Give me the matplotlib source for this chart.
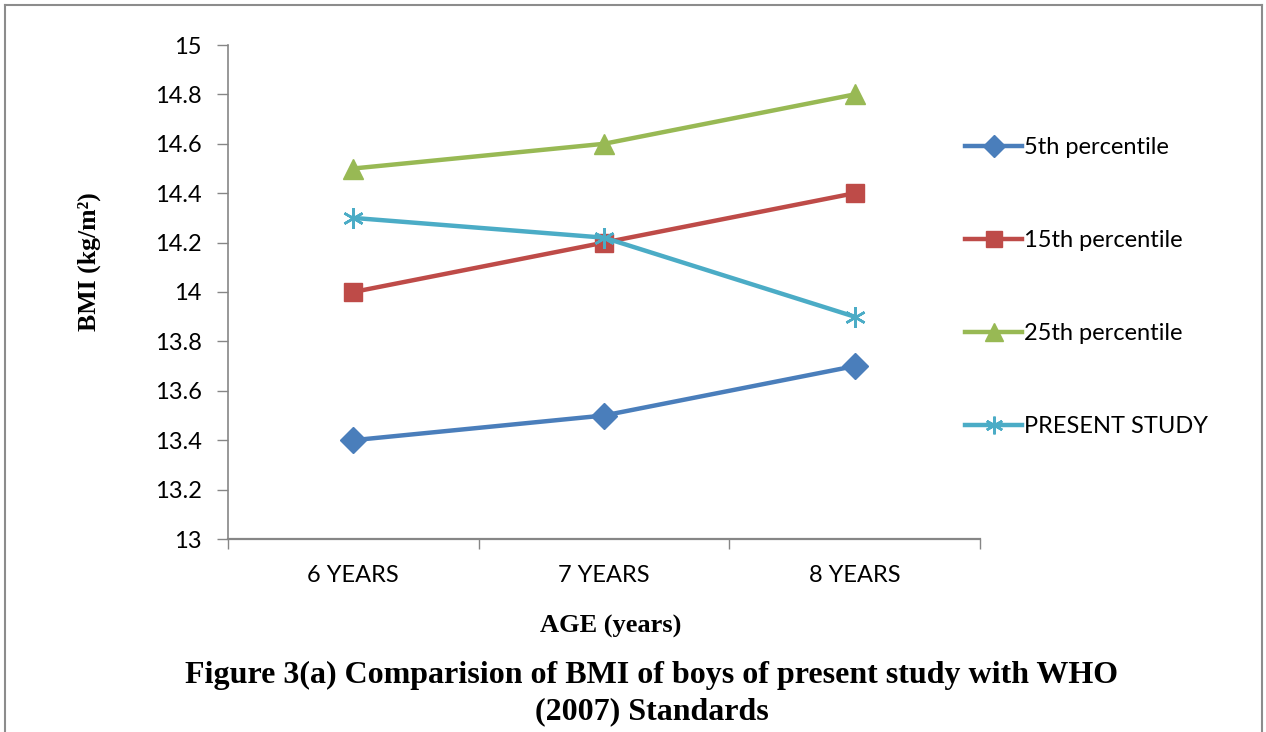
import matplotlib
matplotlib.use("Agg")
import matplotlib.pyplot as plt
from matplotlib.lines import Line2D

categories = ["6 YEARS", "7 YEARS", "8 YEARS"]
p5 = [13.4, 13.5, 13.7]
p15 = [14.0, 14.2, 14.4]
p25 = [14.5, 14.6, 14.8]
present = [14.3, 14.22, 13.9]
series_names = ["5th percentile", "15th percentile", "25th percentile", "PRESENT STUDY"]
yticks = [13, 13.2, 13.4, 13.6, 13.8, 14, 14.2, 14.4, 14.6, 14.8, 15]

W, H = 1266, 732
fig = plt.figure(figsize=(W / 100, H / 100), dpi=100)
ax = fig.add_axes([228 / W, 1 - 539 / H, (980 - 228) / W, (539 - 45) / H])

sans = ["Lato", "DejaVu Sans"]
serif = ["Liberation Serif", "DejaVu Serif"]
x = list(range(len(categories)))
lw = 3.2
ax.plot(x, p5, color="#4A7EBB", lw=lw, marker="D", ms=13, label=series_names[0])
ax.plot(x, p15, color="#BE4B48", lw=lw, marker="s", ms=13, label=series_names[1])
ax.plot(x, p25, color="#98B954", lw=lw, marker="^", ms=15, label=series_names[2])
ax.plot(x, present, color="#4BACC6", lw=lw, marker=(6, 2, 0), ms=15, mew=1.8,
        label=series_names[3])

ax.set_xlim(-0.5, len(categories) - 0.5)
ax.set_ylim(13, 15)
ax.set_yticks(yticks)
ax.set_yticklabels([f"{v:g}" for v in yticks], fontfamily=sans, fontsize=17)
ax.set_xticks([i - 0.5 for i in range(len(categories) + 1)])
ax.set_xticklabels([])
ax.set_xticks(x, minor=True)
ax.set_xticklabels(categories, minor=True, fontfamily=sans, fontsize=17)
ax.tick_params(axis="x", which="major", length=7, width=1, color="#868686", direction="out")
ax.tick_params(axis="x", which="minor", length=0, pad=19)
ax.tick_params(axis="y", length=8, width=1, color="#868686", direction="out", pad=11)
for s in ["top", "right"]:
    ax.spines[s].set_visible(False)
ax.spines["left"].set_color("#868686")
ax.spines["left"].set_linewidth(1.2)
ax.spines["bottom"].set_color("#868686")
ax.spines["bottom"].set_linewidth(1.6)

leg = fig.legend(loc="upper left", bbox_to_anchor=(944 / W, 1 - 116 / H), frameon=False,
                 prop={"family": sans, "size": 17}, labelspacing=3.05, handlelength=2.4,
                 handletextpad=0.1, markerscale=0.85)

fig.text(89 / W, 1 - 262 / H, "BMI (kg/m²)", rotation=90, ha="center", va="center",
         fontfamily=serif, fontweight="bold", fontsize=18.5)
fig.text(611 / W, 1 - 626 / H, "AGE (years)", ha="center", va="center",
         fontfamily=serif, fontweight="bold", fontsize=19)
fig.text(652 / W, 1 - 675 / H, "Figure 3(a) Comparision of BMI of boys of present study with WHO",
         ha="center", va="center", fontfamily=serif, fontweight="bold", fontsize=23)
fig.text(652 / W, 1 - 712 / H, "(2007) Standards",
         ha="center", va="center", fontfamily=serif, fontweight="bold", fontsize=23)

fc = "#8C8C8C"
fig.add_artist(Line2D([5 / W, 5 / W], [0, 1 - 5 / H], color=fc, lw=1.5, transform=fig.transFigure))
fig.add_artist(Line2D([5 / W, 1262 / W], [1 - 5 / H, 1 - 5 / H], color=fc, lw=1.5, transform=fig.transFigure))
fig.add_artist(Line2D([1262 / W, 1262 / W], [0, 1 - 5 / H], color=fc, lw=1.5, transform=fig.transFigure))

fig.savefig("out.png", dpi=100)
